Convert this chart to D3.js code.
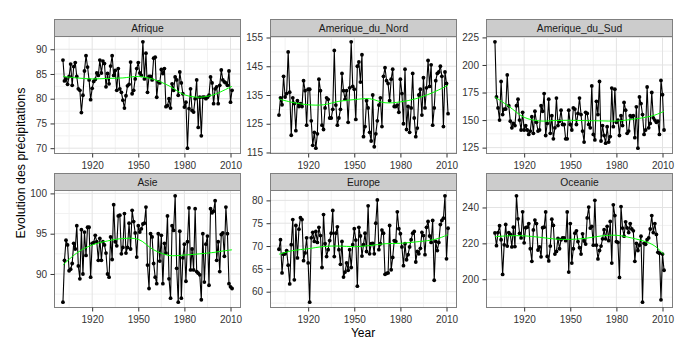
<!DOCTYPE html>
<html>
<head>
<meta charset="utf-8">
<script src="https://cdn.jsdelivr.net/npm/d3@7"></script>
<style>
body { margin: 0; background: #fff; }
text { font-family: "Liberation Sans", Arial, sans-serif; }
</style>
</head>
<body>
<svg id="chart"></svg>
<script>
// Years of the series (one value per year)
var years = d3.range(1901, 2012);

// Facet names
var regionNames = ["Afrique", "Amerique_du_Nord", "Amerique_du_Sud", "Asie", "Europe", "Oceanie"];

// Yearly precipitation per region
var afrique = [
    87.8, 83.6, 84.0, 82.9, 84.5, 87.0, 82.7, 86.5, 87.3, 84.5,
    82.0, 81.7, 77.2, 80.7, 85.6, 88.7, 86.4, 83.8, 79.8, 82.1,
    83.5, 83.9, 85.2, 84.7, 87.8, 85.2, 87.6, 87.1, 82.4, 85.1,
    83.0, 86.6, 88.7, 84.7, 85.7, 81.7, 86.1, 82.0, 81.3, 79.7,
    78.1, 80.6, 82.6, 82.9, 87.4, 81.0, 81.7, 84.0, 86.1, 87.3,
    85.2, 84.7, 91.5, 84.0, 89.2, 81.3, 84.5, 84.5, 83.8, 88.2,
    88.4, 80.3, 83.4, 83.2, 85.9, 85.1, 86.1, 78.4, 78.6, 80.0,
    78.1, 83.0, 81.7, 84.4, 83.8, 80.7, 85.4, 83.2, 81.0, 78.3,
    79.3, 70.0, 78.0, 82.0, 77.6, 77.3, 80.0, 83.8, 74.2, 80.3,
    72.5, 80.3, 80.3, 80.0, 80.3, 80.7, 84.4, 83.2, 79.0, 82.0,
    82.4, 79.0, 82.7, 85.8, 83.8, 83.4, 83.2, 82.7, 85.6, 79.3,
    81.7
];
var ameriqueNord = [
    128, 134, 131.6, 141.5, 134.3, 135.5, 150, 136, 121, 134,
    132, 122.6, 133, 131, 132, 131, 140, 136.5, 124.5, 137,
    137, 126, 117.5, 122, 116.5, 121.5, 140.5, 136.5, 124.5, 123,
    130.5, 134, 133.5, 127, 127, 130, 150.5, 131.5, 124.5, 127,
    130, 142.5, 136.5, 133.5, 136.5, 125.5, 137.5, 153.5, 138, 137,
    126.5, 145, 146.5, 139.5, 149, 120.5, 124, 133, 130.5, 122,
    119, 135, 117, 121.5, 126, 131.5, 134, 124, 141.5, 144.5,
    140, 139, 133, 140.5, 144, 131, 131, 131.5, 129, 140.5,
    135.5, 125, 144, 123, 131, 122, 130.5, 142.5, 127, 120.5,
    123.5, 135, 137, 128, 141, 130.5, 137.5, 147, 138, 145.5,
    124.5, 130.5, 140, 142.5, 143, 145, 141.5, 124, 143, 139,
    128.5
];
var ameriqueSud = [
    221, 171, 161, 150, 185, 155, 160, 160, 191, 163,
    149, 143, 147, 145, 163, 169, 150, 141, 157, 141,
    145, 141, 137, 140, 153, 138, 158, 148, 140, 141,
    163, 158, 174, 136, 147, 169, 138, 154, 133, 143,
    170, 145, 149, 159, 146, 146, 133, 133, 159, 146,
    141, 161, 160, 146, 156, 170, 155, 140, 130, 157,
    156, 146, 143, 181, 137, 132, 167, 155, 185, 131,
    145, 136, 129, 144, 130, 135, 179, 144, 178, 148,
    150, 136, 154, 145, 166, 159, 138, 140, 154, 153,
    154, 134, 162, 124.5, 171, 165, 155, 137, 141, 180,
    143, 147, 175, 152, 150, 148, 149, 137, 186, 173,
    141
];
var asie = [
    86.5, 91.7, 94.2, 93.6, 90.4, 90.6, 91.3, 93.8, 93.1, 96.0,
    91.0, 89.4, 95.5, 90.0, 95.2, 92.3, 95.8, 95.8, 89.6, 93.8,
    93.9, 94.8, 94.0, 91.7, 94.4, 91.7, 94.0, 93.6, 92.6, 90.0,
    89.6, 94.6, 91.8, 98.6, 94.0, 93.5, 97.2, 97.3, 92.5, 93.3,
    97.5, 92.6, 93.3, 96.3, 93.1, 97.9, 96.5, 95.1, 92.1, 96.0,
    95.2, 95.6, 96.2, 96.3, 98.3, 91.1, 88.2, 95.0, 94.6, 91.3,
    89.6, 88.8, 95.0, 91.6, 94.8, 88.8, 93.8, 92.6, 97.2, 89.4,
    87.0, 96.0, 95.4, 99.7, 90.7, 86.5, 95.3, 87.0, 92.0, 93.7,
    89.1, 94.0, 98.2, 90.5, 93.1, 90.5, 98.1, 90.3, 90.1, 89.9,
    86.8, 95.0, 89.0, 93.7, 94.7, 88.6, 98.1, 97.6, 97.8, 99.1,
    91.7, 94.0, 90.3, 94.9, 95.1, 92.2, 98.3, 95.0, 88.8, 88.4,
    88.2
];
var europe = [
    69.3, 71.4, 64.1, 68.2, 68.3, 69.0, 65.8, 61.7, 70.3, 75.8,
    62.6, 74.5, 67.4, 73.7, 76.2, 75.8, 66.8, 68.5, 71.8, 66.3,
    57.7, 71.8, 73.0, 71.0, 73.2, 70.8, 74.1, 72.3, 65.3, 76.9,
    70.5, 67.7, 69.2, 71.2, 72.8, 77.8, 67.7, 72.8, 74.2, 69.2,
    66.0, 71.0, 63.2, 64.3, 66.3, 64.7, 69.2, 65.3, 70.3, 73.8,
    71.3, 61.2, 74.1, 72.2, 67.8, 70.3, 72.8, 68.8, 78.8, 68.3,
    70.5, 70.6, 68.3, 75.0, 80.1, 69.2, 70.5, 73.5, 72.8, 63.8,
    64.0, 64.1, 74.5, 64.8, 67.5, 71.2, 71.0, 77.5, 73.8, 72.7,
    69.8, 65.7, 70.5, 67.0, 68.1, 69.8, 71.4, 72.8, 73.2, 66.5,
    68.8, 68.3, 69.5, 73.0, 72.3, 68.1, 74.1, 75.4, 72.2, 70.8,
    75.6, 62.5, 71.0, 69.0, 70.8, 74.7, 75.6, 76.1, 81.0, 67.2,
    73.9
];
var oceanie = [
    225.8, 218.7, 226.0, 229.8, 222.0, 202.7, 219.2, 230.5, 218.5, 226.0,
    225.0, 218.0, 229.0, 218.2, 246.5, 233.7, 225.6, 223.0, 237.6, 220.3,
    228.7, 229.0, 231.0, 217.0, 210.0, 227.5, 233.0, 231.0, 216.3, 218.0,
    212.5, 228.7, 229.0, 237.5, 212.7, 210.2, 218.5, 233.5, 230.0, 214.0,
    215.5, 222.8, 217.0, 222.0, 223.0, 223.0, 221.5, 237.5, 204.0, 231.0,
    209.0, 217.0, 225.7, 227.0, 221.0, 217.6, 214.0, 225.3, 221.3, 219.6,
    234.2, 240.2, 228.5, 229.4, 219.0, 244.0, 219.0, 211.3, 216.0, 218.5,
    222.5, 227.6, 222.5, 229.5, 221.5, 232.2, 209.0, 241.5, 235.5, 221.0,
    220.5, 201.0, 240.5, 228.5, 224.0, 232.0, 228.6, 226.0, 231.0, 228.0,
    227.0, 210.0, 220.0, 216.0, 219.0, 224.0, 187.2, 220.0, 219.5, 222.0,
    223.0, 228.0, 235.5, 226.0, 231.0, 225.0, 215.0, 214.5, 188.5, 214.0,
    205.0
];

// Green smoothing curve, read at these years
var smoothYears = [1901, 1910, 1920, 1930, 1940, 1950, 1960, 1970, 1980, 1990, 2000, 2005, 2011];
var smoothAfrique = [84.5, 84.2, 84.0, 84.1, 84.2, 84.5, 83.9, 82.6, 80.8, 80.3, 80.9, 81.6, 82.5];
var smoothNord = [133.6, 132.4, 131.6, 131.6, 132.8, 133.4, 133.7, 132.3, 132.6, 133.7, 135.6, 136.8, 138.4];
var smoothSud = [171, 162.5, 152.5, 149.2, 149.6, 149.8, 149.5, 149.3, 149.1, 150.6, 152.8, 154.5, 158];
var smoothAsie = [91.1, 92.6, 93.6, 94.1, 94.4, 94.3, 93.0, 92.3, 92.35, 92.5, 92.7, 92.85, 93.0];
var smoothEurope = [68.2, 69.0, 69.4, 69.9, 70.0, 69.85, 70.1, 70.5, 70.6, 70.9, 71.3, 71.7, 72.5];
var smoothOceanie = [223.7, 224.2, 224.2, 223.4, 222.4, 222.2, 222.8, 224.1, 224.5, 223.0, 220.6, 218.5, 213.7];

// Tick labels
var xTicks = [1920, 1950, 1980, 2010];
var yTicksAfrique = [70, 75, 80, 85, 90];
var yTicksNord = [115, 125, 135, 145, 155];
var yTicksSud = [125, 150, 175, 200, 225];
var yTicksAsie = [90, 95, 100];
var yTicksEurope = [60, 65, 70, 75, 80];
var yTicksOceanie = [200, 220, 240];

var series = [afrique, ameriqueNord, ameriqueSud, asie, europe, oceanie];
var smooths = [smoothAfrique, smoothNord, smoothSud, smoothAsie, smoothEurope, smoothOceanie];
var yTicksAll = [yTicksAfrique, yTicksNord, yTicksSud, yTicksAsie, yTicksEurope, yTicksOceanie];

// Layout
var width = 692, height = 352;
var panelW = 186, stripH = 17, plotH = 117;
var colX = [54.5, 270.5, 486.5];
var rowY = [19.5, 173.5];
var textCol = "#333333";

var svg = d3.select("#chart")
    .attr("width", width)
    .attr("height", height);

svg.append("rect")
    .attr("width", width)
    .attr("height", height)
    .attr("fill", "#fff");

// ggplot style 5% expansion
function expand(ext) {
    var pad = (ext[1] - ext[0]) * 0.05;
    return [ext[0] - pad, ext[1] + pad];
}

// minor breaks halfway between the majors (and one step outside)
function minors(ticks, domain) {
    var step = ticks[1] - ticks[0];
    var out = [];
    for (var i = -1; i < ticks.length; i++) {
        var m = ticks[0] + step * i + step / 2;
        if (m > domain[0] && m < domain[1]) out.push(m);
    }
    return out;
}

var xDomain = expand(d3.extent(years));

regionNames.forEach(function(name, i) {
    var left = colX[i % 3];
    var top = rowY[Math.floor(i / 3)] + stripH;
    var values = series[i];
    var yTicks = yTicksAll[i];

    var x = d3.scaleLinear().domain(xDomain).range([0, panelW]);
    var y = d3.scaleLinear().domain(expand(d3.extent(values))).range([plotH, 0]);

    var g = svg.append("g").attr("transform", "translate(" + left + "," + top + ")");

    // background
    g.append("rect")
        .attr("width", panelW)
        .attr("height", plotH)
        .attr("fill", "#fff");

    // minor grid
    minors(xTicks, x.domain()).forEach(function(v) {
        g.append("line")
            .attr("x1", x(v)).attr("x2", x(v))
            .attr("y1", 0).attr("y2", plotH)
            .attr("stroke", "#f2f2f2");
    });
    minors(yTicks, y.domain()).forEach(function(v) {
        g.append("line")
            .attr("x1", 0).attr("x2", panelW)
            .attr("y1", y(v)).attr("y2", y(v))
            .attr("stroke", "#f2f2f2");
    });

    // major grid
    g.selectAll(".gx").data(xTicks).enter().append("line")
        .attr("x1", function(d) { return x(d); })
        .attr("x2", function(d) { return x(d); })
        .attr("y1", 0).attr("y2", plotH)
        .attr("stroke", "#e3e3e3");
    g.selectAll(".gy").data(yTicks).enter().append("line")
        .attr("x1", 0).attr("x2", panelW)
        .attr("y1", function(d) { return y(d); })
        .attr("y2", function(d) { return y(d); })
        .attr("stroke", "#e3e3e3");

    // series line and points
    var pts = years.map(function(yr, k) { return [yr, values[k]]; });
    var line = d3.line()
        .x(function(d) { return x(d[0]); })
        .y(function(d) { return y(d[1]); });

    g.append("path")
        .datum(pts)
        .attr("d", line)
        .attr("fill", "none")
        .attr("stroke", "#000")
        .attr("stroke-width", 1.1);

    g.selectAll(".pt").data(pts).enter().append("circle")
        .attr("cx", function(d) { return x(d[0]); })
        .attr("cy", function(d) { return y(d[1]); })
        .attr("r", 1.9)
        .attr("fill", "#000");

    // smoothing curve
    var sm = smoothYears.map(function(yr, k) { return [yr, smooths[i][k]]; });
    g.append("path")
        .datum(sm)
        .attr("d", line.curve(d3.curveCatmullRom))
        .attr("fill", "none")
        .attr("stroke", "#00ff00")
        .attr("stroke-width", 1);

    // panel border
    g.append("rect")
        .attr("width", panelW)
        .attr("height", plotH)
        .attr("fill", "none")
        .attr("stroke", "#7f7f7f");

    // strip
    g.append("rect")
        .attr("y", -stripH)
        .attr("width", panelW)
        .attr("height", stripH)
        .attr("fill", "#cccccc")
        .attr("stroke", "#7f7f7f");
    g.append("text")
        .attr("x", panelW / 2)
        .attr("y", -stripH / 2)
        .attr("dy", "0.35em")
        .attr("text-anchor", "middle")
        .attr("font-size", "10.3px")
        .attr("fill", "#1a1a1a")
        .text(name);

    // axes
    var ay = g.append("g")
        .call(d3.axisLeft(y).tickValues(yTicks).tickSize(4).tickPadding(3.5));
    var ax = g.append("g")
        .attr("transform", "translate(0," + plotH + ")")
        .call(d3.axisBottom(x).tickValues(xTicks).tickFormat(d3.format("d")).tickSize(4).tickPadding(4.6));
    [ax, ay].forEach(function(a) {
        a.select(".domain").remove();
        a.selectAll("line").attr("stroke", textCol);
        a.selectAll("text")
            .attr("fill", textCol)
            .style("font-size", "10px")
            .style("font-family", "'Liberation Sans', Arial, sans-serif");
    });
});

// axis titles
svg.append("text")
    .attr("x", 363)
    .attr("y", 337)
    .attr("text-anchor", "middle")
    .attr("font-size", "12px")
    .attr("fill", "#000")
    .text("Year");

svg.append("text")
    .attr("transform", "translate(24.5,163) rotate(-90)")
    .attr("text-anchor", "middle")
    .attr("font-size", "12.4px")
    .attr("fill", "#000")
    .text("Evolution des précipitations");
</script>
</body>
</html>
